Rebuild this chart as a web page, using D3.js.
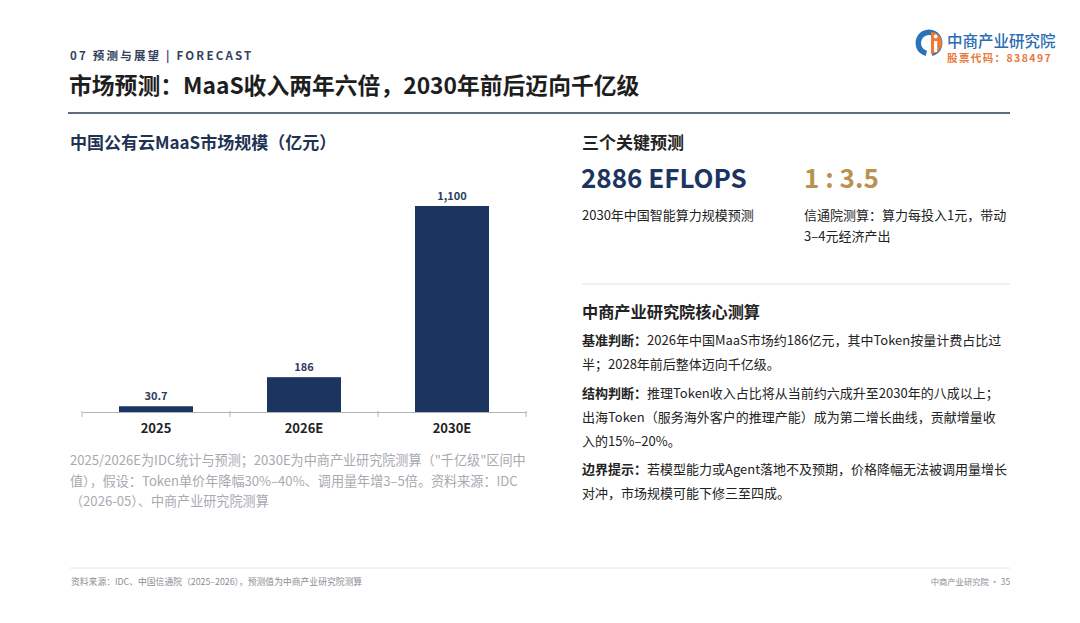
<!DOCTYPE html>
<html>

<head>
    <meta charset="UTF-8">
    <title>MaaS 市场预测</title>
    <style>
        body {
            margin: 0;
            background: #fff;
        }

        svg {
            display: block;
            font-family: "Noto Sans CJK SC", "Noto Sans", sans-serif;
        }
    </style>
</head>

<body>
    <svg></svg>
    <script src="https://d3js.org/d3.v7.min.js"></script>
    <script>

        // chart data
        const categories = ["2025", "2026E", "2030E"]
        const values = [30.7, 186, 1100]

        // text blocks
        const noteLines = [
            "2025/2026E为IDC统计与预测；2030E为中商产业研究院测算（\"千亿级\"区间中",
            "值），假设：Token单价年降幅30%–40%、调用量年增3–5倍。资料来源：IDC",
            "（2026-05）、中商产业研究院测算"
        ]
        const paragraphs = [
            { head: "基准判断：", lines: ["2026年中国MaaS市场约186亿元，其中Token按量计费占比过", "半；2028年前后整体迈向千亿级。"] },
            { head: "结构判断：", lines: ["推理Token收入占比将从当前约六成升至2030年的八成以上；", "出海Token（服务海外客户的推理产能）成为第二增长曲线，贡献增量收", "入的15%–20%。"] },
            { head: "边界提示：", lines: ["若模型能力或Agent落地不及预期，价格降幅无法被调用量增长", "对冲，市场规模可能下修三至四成。"] }
        ]

        let width = 1080, height = 623
        const navy = "#1c3560"

        let svg = d3.select("svg")
            .attr("width", width)
            .attr("height", height)
            .attr("viewBox", "0 0 " + width + " " + height)

        // header
        svg.append("text")
            .attr("x", 70).attr("y", 60)
            .attr("font-size", 11.5).attr("font-weight", 700)
            .attr("letter-spacing", 2.2)
            .attr("fill", "#33415c")
            .text("07 预测与展望 | FORECAST")

        svg.append("text")
            .attr("x", 69).attr("y", 94)
            .attr("font-size", 22.8).attr("font-weight", 700)
            .attr("fill", "#1e1e1e")
            .text("市场预测：MaaS收入两年六倍，2030年前后迈向千亿级")

        svg.append("line")
            .attr("x1", 68).attr("x2", 1010)
            .attr("y1", 113).attr("y2", 113)
            .attr("stroke", "#2b3a55").attr("stroke-width", 1.5)

        // logo
        let logo = svg.append("g").attr("transform", "translate(929,43)")
        logo.append("path")
            .attr("d", d3.arc()({ innerRadius: 8, outerRadius: 13.5, startAngle: Math.PI * 0.08, endAngle: Math.PI * 1.92 }))
            .attr("transform", "rotate(180)")
            .attr("fill", "#2a73b9")
        logo.append("path")
            .attr("d", d3.arc()({ innerRadius: 0, outerRadius: 11, startAngle: 0, endAngle: Math.PI }))
            .attr("transform", "translate(2,0)")
            .attr("fill", "#ec7a33")
        logo.append("rect")
            .attr("x", 5).attr("y", -2).attr("width", 3.2).attr("height", 11)
            .attr("fill", "#fff")
        logo.append("circle")
            .attr("cx", 6.6).attr("cy", -6.5).attr("r", 1.9)
            .attr("fill", "#fff")

        svg.append("text")
            .attr("x", 947).attr("y", 47)
            .attr("font-size", 15.5).attr("font-weight", 500)
            .attr("fill", "#2a6db3")
            .text("中商产业研究院")
        svg.append("text")
            .attr("x", 947).attr("y", 62)
            .attr("font-size", 10.5).attr("font-weight", 700)
            .attr("letter-spacing", 1.4)
            .attr("fill", "#e8793a")
            .text("股票代码：838497")

        // left: chart
        svg.append("text")
            .attr("x", 70).attr("y", 149)
            .attr("font-size", 17).attr("font-weight", 700)
            .attr("fill", "#1f3354")
            .text("中国公有云MaaS市场规模（亿元）")

        let x = d3.scaleBand()
            .domain(categories)
            .range([82, 526])
            .paddingInner(0.5)
            .paddingOuter(0.25)

        let y = d3.scaleLinear()
            .domain([0, 1100])
            .range([412, 206])

        let chart = svg.append("g").attr("id", "chart")

        chart.selectAll("rect.bar")
            .data(values)
            .enter()
            .append("rect")
            .attr("class", "bar")
            .attr("x", (d, i) => x(categories[i]))
            .attr("width", x.bandwidth())
            .attr("y", d => y(d))
            .attr("height", d => y(0) - y(d))
            .attr("fill", navy)

        chart.selectAll("text.value")
            .data(values)
            .enter()
            .append("text")
            .attr("class", "value")
            .attr("x", (d, i) => x(categories[i]) + x.bandwidth() / 2)
            .attr("y", d => y(d) - 6)
            .attr("text-anchor", "middle")
            .attr("font-size", 11).attr("font-weight", 700)
            .attr("fill", "#2c3d5e")
            .text(d => d3.format(",")(d))

        // axis with ticks at band boundaries
        let axis = chart.append("g")
            .attr("transform", "translate(0," + y(0) + ")")
            .call(d3.axisBottom(x).tickSize(0).tickPadding(12))
        axis.select(".domain").attr("stroke", "#b5b5b5")
        axis.selectAll("text")
            .attr("font-size", 13).attr("font-weight", 700)
            .attr("font-family", "'Noto Sans CJK SC', sans-serif")
            .attr("fill", "#222")

        let bounds = d3.range(categories.length + 1).map(i => x.range()[0] + i * x.step())
        axis.selectAll("line.bound")
            .data(bounds)
            .enter()
            .append("line")
            .attr("class", "bound")
            .attr("x1", d => d).attr("x2", d => d)
            .attr("y1", -1).attr("y2", 5)
            .attr("stroke", "#b5b5b5")

        svg.append("g")
            .selectAll("text")
            .data(noteLines)
            .enter()
            .append("text")
            .attr("x", 70)
            .attr("y", (d, i) => 465 + i * 20.5)
            .attr("font-size", 13.1)
            .attr("fill", "#a9a9b0")
            .text(d => d)

        // right: key forecasts
        svg.append("text")
            .attr("x", 582).attr("y", 149)
            .attr("font-size", 17).attr("font-weight", 700)
            .attr("fill", "#222")
            .text("三个关键预测")

        svg.append("text")
            .attr("x", 581).attr("y", 188)
            .attr("font-size", 26).attr("font-weight", 700)
            .attr("fill", navy)
            .text("2886 EFLOPS")
        svg.append("text")
            .attr("x", 804).attr("y", 188)
            .attr("font-size", 26).attr("font-weight", 700)
            .attr("fill", "#b8924e")
            .text("1 : 3.5")

        svg.append("text")
            .attr("x", 582).attr("y", 220)
            .attr("font-size", 13)
            .attr("fill", "#222")
            .text("2030年中国智能算力规模预测")
        svg.selectAll("text.ratio")
            .data(["信通院测算：算力每投入1元，带动", "3–4元经济产出"])
            .enter()
            .append("text")
            .attr("class", "ratio")
            .attr("x", 804)
            .attr("y", (d, i) => 220 + i * 21)
            .attr("font-size", 13)
            .attr("fill", "#222")
            .text(d => d)

        svg.append("line")
            .attr("x1", 582).attr("x2", 1010)
            .attr("y1", 284).attr("y2", 284)
            .attr("stroke", "#e3e3e3").attr("stroke-width", 1)

        svg.append("text")
            .attr("x", 582).attr("y", 318)
            .attr("font-size", 16.2).attr("font-weight", 700)
            .attr("fill", "#222")
            .text("中商产业研究院核心测算")

        let lineY = 345
        paragraphs.forEach(p => {
            p.lines.forEach((l, i) => {
                let t = svg.append("text")
                    .attr("x", 582).attr("y", lineY)
                    .attr("font-size", 13)
                    .attr("fill", "#222")
                if (i == 0) t.append("tspan").attr("font-weight", 700).text(p.head)
                t.append("tspan").text(l)
                lineY += 24
            })
            lineY += 4.5
        })

        // footer
        svg.append("line")
            .attr("x1", 70).attr("x2", 1010)
            .attr("y1", 568).attr("y2", 568)
            .attr("stroke", "#e6e6e6").attr("stroke-width", 1)
        svg.append("text")
            .attr("x", 71).attr("y", 585)
            .attr("font-size", 8.8)
            .attr("fill", "#8d8d95")
            .text("资料来源：IDC、中国信通院（2025–2026），预测值为中商产业研究院测算")
        svg.append("text")
            .attr("x", 1010).attr("y", 585)
            .attr("text-anchor", "end")
            .attr("font-size", 8.3)
            .attr("fill", "#8d8d95")
            .text("中商产业研究院 · 35")

    </script>

</body>

</html>
